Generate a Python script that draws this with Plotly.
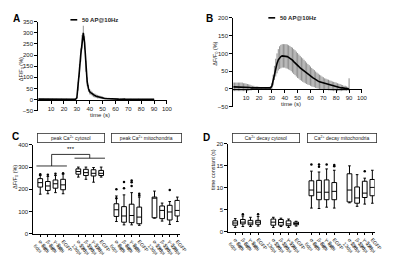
import plotly.graph_objects as go

# ---------------- data ----------------
time_A = list(range(0, 91))
mean_A = [2, 2, 1, 2, 2, 1, 1, 2, 2, 1,
          1, 2, 1, 1, 2, 1, 1, 1, 2, 1,
          1, 1, 2, 1, 1, 0, 1, 1, 2, 1,
          8, 60, 130, 200, 260, 300, 255, 150, 80, 50,
          35, 30, 25, 20, 18, 15, 13, 12, 10, 9,
          8, 6, 5, 5, 4, 4, 3, 3, 3, 2,
          2, 2, 2, 1, 2, 1, 1, 2, 1, 1,
          1, 1, 2, 1, 1, 1, 1, 1, 2, 1,
          1, 1, 1, 1, 1, 1, 1, 1, 1, 1, 1]
err_A = [2, 2, 2, 2, 2, 2, 2, 2, 2, 2,
         2, 2, 2, 2, 2, 2, 2, 2, 2, 2,
         2, 2, 2, 2, 2, 2, 2, 2, 2, 3,
         5, 20, 30, 30, 30, 32, 30, 25, 20, 15,
         12, 10, 10, 9, 9, 8, 8, 7, 7, 6,
         6, 5, 5, 4, 4, 4, 3, 3, 3, 3,
         3, 3, 2, 2, 2, 2, 2, 2, 2, 2,
         2, 2, 2, 2, 2, 2, 2, 2, 2, 2,
         2, 2, 2, 2, 2, 2, 2, 2, 2, 2, 2]

time_B = list(range(0, 91))
mean_B = [6, 6, 6, 6, 6, 6, 6, 6, 5, 5,
          5, 4, 4, 4, 3, 3, 3, 2, 2, 2,
          2, 1, 1, 1, 1, 1, 1, 1, 2, 3,
          8, 25, 45, 60, 72, 82, 88, 91, 93, 93,
          93, 92, 91, 89, 87, 84, 81, 77, 74, 70,
          66, 63, 59, 56, 53, 50, 47, 44, 41, 39,
          36, 33, 31, 29, 26, 24, 22, 20, 19, 17,
          16, 14, 13, 12, 11, 10, 9, 8, 7, 7,
          6, 5, 5, 4, 3, 3, 2, 2, 1, 1, 0]
err_B = [12, 12, 12, 12, 12, 12, 12, 12, 11, 11,
         10, 10, 9, 8, 7, 6, 6, 5, 5, 5,
         4, 4, 4, 4, 4, 4, 4, 4, 4, 5,
         8, 15, 20, 25, 28, 30, 32, 33, 33, 33,
         33, 34, 34, 34, 34, 34, 35, 35, 35, 35,
         35, 34, 34, 33, 33, 32, 31, 30, 29, 28,
         27, 26, 25, 24, 23, 22, 21, 20, 19, 18,
         17, 16, 16, 15, 15, 14, 14, 13, 13, 12,
         12, 11, 10, 10, 9, 8, 7, 7, 6, 5, 30]
err_B_minus = err_B[:-1] + [6]

categories = ["α-Syn<br>6dpi", "β-Syn<br>6dpi", "γ-Syn<br>6dpi", "EGFP<br>6dpi",
              "α-Syn<br>13dpi", "β-Syn<br>13dpi", "γ-Syn<br>13dpi", "EGFP<br>13dpi",
              "α-Syn<br>6dpi", "β-Syn<br>6dpi", "γ-Syn<br>6dpi", "EGFP<br>6dpi",
              "α-Syn<br>13dpi", "β-Syn<br>13dpi", "γ-Syn<br>13dpi", "EGFP<br>13dpi"]

# Panel C: peak amplitude (ΔF/F0 %)
C_low = [178, 180, 185, 180, 255, 245, 232, 255, 55, 40, 40, 38, 70, 57, 42, 55]
C_q1 = [210, 195, 205, 198, 268, 262, 260, 262, 78, 52, 50, 45, 72, 68, 62, 80]
C_med = [230, 215, 225, 220, 280, 275, 272, 272, 108, 80, 82, 75, 160, 105, 98, 105]
C_q3 = [248, 235, 242, 245, 292, 290, 288, 285, 135, 122, 133, 120, 165, 125, 128, 150]
C_high = [262, 258, 262, 268, 300, 300, 298, 300, 170, 175, 185, 165, 192, 138, 145, 165]
C_out = [[268], [265], [270], [272], [], [], [], [], [200, 160], [233, 205],
         [240, 232, 215], [180, 172], [], [], [197], []]

# Panel D: decay time constant (s)
D_low = [1.0, 1.2, 1.2, 1.3, 1.0, 1.2, 1.0, 1.3, 5.4, 5.3, 5.6, 5.4, 6.6, 5.8, 6.3, 6.5]
D_q1 = [1.5, 1.8, 1.6, 1.7, 1.5, 1.5, 1.4, 1.6, 8.2, 7.3, 7.3, 7.3, 6.8, 6.5, 7.8, 8.2]
D_med = [2.0, 2.2, 2.0, 2.2, 2.2, 2.1, 1.8, 1.9, 9.5, 9.0, 9.0, 9.2, 9.5, 7.7, 8.8, 10.1]
D_q3 = [2.5, 2.8, 2.6, 2.6, 2.9, 2.8, 2.5, 2.2, 11.6, 11.7, 11.8, 11.2, 13.2, 10.2, 11.5, 11.9]
D_high = [3.0, 3.6, 3.3, 3.5, 3.3, 3.1, 2.9, 2.4, 13.8, 13.6, 14.3, 14.0, 15.0, 13.0, 12.2, 14.0]
D_out = [[], [4.0], [], [4.0], [], [], [], [], [15.3], [15.3, 14.8], [15.3], [15.2, 14.9],
         [], [], [13.8], []]

# significance bracket levels (panel C, data units)
sig_low_1 = 305
sig_low_2 = 340
sig_top = 357

# ---------------- figure ----------------
W, H = 400, 261
FONT = "Arial"
fig = go.Figure()

pos = [i + i // 4 for i in range(len(categories))]

# Panel A
fig.add_trace(go.Scatter(
    x=time_A, y=mean_A, mode="lines", line=dict(color="black", width=1.6),
    error_y=dict(type="data", array=err_A, color="#666", thickness=0.7, width=0),
    xaxis="x", yaxis="y", showlegend=False))

# Panel B
fig.add_trace(go.Scatter(
    x=time_B, y=mean_B, mode="lines", line=dict(color="black", width=1.6),
    error_y=dict(type="data", array=err_B, arrayminus=err_B_minus, color="#707070",
                 thickness=0.8, width=0),
    xaxis="x2", yaxis="y2", showlegend=False))


def add_boxes(lo, q1, med, q3, hi, outs, xa, ya):
    fig.add_trace(go.Box(
        x=pos, q1=q1, median=med, q3=q3, lowerfence=lo, upperfence=hi,
        boxpoints=False, fillcolor="white", line=dict(color="black", width=1),
        width=0.62, whiskerwidth=0.55, xaxis=xa, yaxis=ya, showlegend=False))
    ox, oy = [], []
    for p, vals in zip(pos, outs):
        for v in vals:
            ox.append(p)
            oy.append(v)
    fig.add_trace(go.Scatter(
        x=ox, y=oy, mode="markers", marker=dict(color="black", size=2.5),
        xaxis=xa, yaxis=ya, showlegend=False))


add_boxes(C_low, C_q1, C_med, C_q3, C_high, C_out, "x3", "y3")
add_boxes(D_low, D_q1, D_med, D_q3, D_high, D_out, "x4", "y4")


def px(x):
    return x / W


def py(y):
    return 1 - y / H


tickfont = dict(family=FONT, size=6, color="#222")
common_axis = dict(showgrid=False, zeroline=False, showline=True, linecolor="black",
                   linewidth=1, ticks="outside", ticklen=3, tickwidth=1,
                   tickcolor="black", tickfont=tickfont)
cat_axis = dict(common_axis)
cat_axis["tickfont"] = dict(family=FONT, size=5, color="#222")
cat_axis["ticklen"] = 2

# domains
dA_x, dA_y = [px(30), px(162)], [py(102), py(11)]
dB_x, dB_y = [px(230), px(362)], [py(98), py(7)]
dC_x, dC_y = [px(25), px(175)], [py(228), py(137)]
dD_x, dD_y = [px(225), px(375)], [py(226), py(136)]

yA_range = [-50, 350]
yB_range = [-50, 200]
posA = dA_y[0] + (dA_y[1] - dA_y[0]) * (0 - yA_range[0]) / (yA_range[1] - yA_range[0])
posB = dB_y[0] + (dB_y[1] - dB_y[0]) * (0 - yB_range[0]) / (yB_range[1] - yB_range[0])

time_ticks = list(range(10, 101, 10))

fig.update_layout(
    width=W, height=H, margin=dict(l=0, r=0, t=0, b=0),
    paper_bgcolor="white", plot_bgcolor="white",
    font=dict(family=FONT, size=6, color="#222"),
    xaxis=dict(domain=dA_x, range=[0, 100], anchor="free", position=posA,
               tickvals=time_ticks, **common_axis),
    yaxis=dict(domain=dA_y, range=yA_range, anchor="x", tickvals=list(range(-50, 351, 50)),
               **common_axis),
    xaxis2=dict(domain=dB_x, range=[0, 100], anchor="free", position=posB,
                tickvals=time_ticks, **common_axis),
    yaxis2=dict(domain=dB_y, range=yB_range, anchor="x2", tickvals=list(range(-50, 201, 50)),
                **common_axis),
    xaxis3=dict(domain=dC_x, range=[-0.9, 18.3], anchor="y3", tickvals=pos,
                ticktext=categories, tickangle=50, **cat_axis),
    yaxis3=dict(domain=dC_y, range=[0, 400], anchor="x3", tickvals=[0, 100, 200, 300, 400],
                **common_axis),
    xaxis4=dict(domain=dD_x, range=[-0.9, 18.3], anchor="y4", tickvals=pos,
                ticktext=categories, tickangle=50, **cat_axis),
    yaxis4=dict(domain=dD_y, range=[0, 20], anchor="x4", tickvals=[0, 5, 10, 15, 20],
                **common_axis),
)

# significance bracket in panel C
br = dict(color="black", width=0.8)
fig.add_shape(type="line", xref="x3", yref="y3", x0=pos[0] - 0.5, x1=pos[3] + 0.5,
              y0=sig_low_1, y1=sig_low_1, line=br)
fig.add_shape(type="line", xref="x3", yref="y3", x0=pos[4] - 0.5, x1=pos[7] + 0.5,
              y0=sig_low_2, y1=sig_low_2, line=br)
xm1 = (pos[1] + pos[2]) / 2
xm2 = (pos[5] + pos[6]) / 2
fig.add_shape(type="line", xref="x3", yref="y3", x0=xm1, x1=xm1, y0=sig_low_1, y1=sig_top, line=br)
fig.add_shape(type="line", xref="x3", yref="y3", x0=xm2, x1=xm2, y0=sig_low_2, y1=sig_top, line=br)
fig.add_shape(type="line", xref="x3", yref="y3", x0=xm1, x1=xm2, y0=sig_top, y1=sig_top, line=br)
fig.add_annotation(xref="x3", yref="y3", x=(xm1 + xm2) / 2, y=sig_top, text="***",
                   showarrow=False, xanchor="center", yanchor="bottom",
                   font=dict(size=6, color="black"))

# legends for A and B
for (x0, y0) in [(63, 9), (266, 7)]:
    fig.add_shape(type="line", xref="paper", yref="paper", x0=px(x0), x1=px(x0 + 7),
                  y0=py(y0), y1=py(y0), line=dict(color="black", width=1.6))
    fig.add_annotation(xref="paper", yref="paper", x=px(x0 + 10), y=py(y0),
                       text="<b>50 AP@10Hz</b>",
                       showarrow=False, xanchor="left", yanchor="middle",
                       font=dict(size=6, color="#222"))

# panel letters
for (t, x, y) in [("A", 8, 8), ("B", 206, 8), ("C", 7, 128), ("D", 203, 129)]:
    fig.add_annotation(xref="paper", yref="paper", x=px(x), y=py(y), text="<b>%s</b>" % t,
                       showarrow=False, xanchor="center", yanchor="middle",
                       font=dict(size=10, color="black"))

# axis titles
for (t, x, y) in [("ΔF/F<sub>0</sub> (%)", 13, 60), ("ΔF/F<sub>0</sub> (%)", 212, 44),
                  ("ΔF/F<sub>0</sub> (%)", 6, 170), ("time constant (s)", 210, 162)]:
    fig.add_annotation(xref="paper", yref="paper", x=px(x), y=py(y), text=t, textangle=-90,
                       showarrow=False, xanchor="center", yanchor="middle",
                       font=dict(size=5.5, color="#222"))
for (x, y) in [(93, 106), (289, 95)]:
    fig.add_annotation(xref="paper", yref="paper", x=px(x), y=py(y), text="time (s)",
                       showarrow=False, xanchor="center", yanchor="middle",
                       font=dict(size=6, color="#222"))

# header boxes for C and D
for (t, x0, x1) in [("peak Ca<sup>2+</sup> cytosol", 30, 98),
                    ("peak Ca<sup>2+</sup> mitochondria", 106, 177),
                    ("Ca<sup>2+</sup> decay cytosol", 230, 298),
                    ("Ca<sup>2+</sup> decay mitochondria", 307, 377)]:
    fig.add_annotation(xref="paper", yref="paper", x=px((x0 + x1) / 2), y=py(130), text=t,
                       showarrow=False, xanchor="center", yanchor="middle",
                       width=x1 - x0 - 2, height=8, borderpad=0,
                       bordercolor="#333", borderwidth=0.8, bgcolor="white",
                       font=dict(size=5, color="#222"))

fig.write_html("out.html")
